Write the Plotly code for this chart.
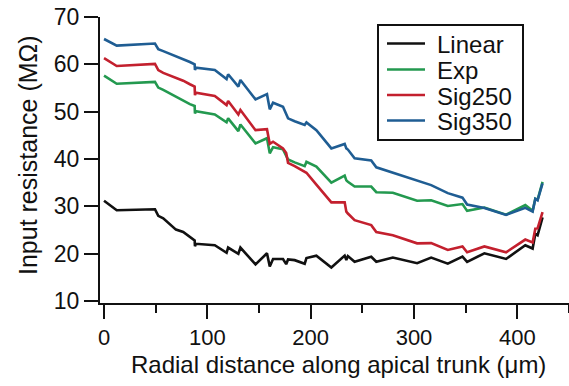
import plotly.graph_objects as go

# Radial distance along apical trunk (um) - shared sample positions
distance = [0, 12.3, 49.3, 52.5, 57.3, 63, 69.6, 76.6, 83.1, 87.7, 88.0, 88.9, 107.2,
            118.6, 120.1, 130, 132, 146.6, 157.7, 160.4, 163.6, 173.2, 176.3, 178.1,
            184.5, 194.2, 195.9, 205.5, 220, 232.9, 234.5, 236, 242.5, 258.6, 263.5,
            279.5, 303, 316.6, 332.7, 346.9, 351.4, 368.1, 389.1, 407.7, 414.8, 417.4,
            419.6, 424.4]

linear = [31.2, 29.2, 29.4, 28.0, 27.5, 26.4, 25.1, 24.6, 23.5, 22.8, 21.6, 22.1, 21.8,
          20.2, 21.3, 20.0, 21.3, 17.75, 20.1, 17.3, 18.9, 18.9, 17.8, 18.8,
          18.65, 17.9, 19.1, 19.6, 17.1, 19.6, 18.7, 19.5, 18.3, 19.35, 18.3,
          19.2, 18.0, 19.2, 17.9, 19.4, 18.3, 20.1, 18.9, 21.8, 21.1, 24.2,
          23.9, 27.7]

exp = [57.6, 55.9, 56.3, 55.1, 54.6, 53.9, 53.2, 52.35, 51.6, 51.2, 49.65, 50.1, 49.4,
       47.75, 48.6, 45.9, 47.3, 43.3, 44.4, 41.2, 42.5, 42.05, 40.5, 39.9,
       39.3, 38.5, 39.4, 38.4, 35.0, 36.5, 35.5, 35.2, 34.2, 34.2, 33.0,
       32.9, 31.2, 31.3, 30.1, 30.5, 29.05, 29.75, 28.25, 30.3, 29.1, 31.6,
       31.4, 35.2]

sig250 = [61.3, 59.65, 60.1, 58.8, 58.2, 57.75, 57.2, 56.55, 55.8, 55.3, 53.5, 54.0, 53.3,
          51.4, 52.25, 49.4, 50.35, 46.1, 46.3, 43.2, 43.65, 42.25, 41.3, 39.2,
          38.5, 37.4, 37.1, 34.6, 30.85, 30.85, 28.9, 28.5, 27.1, 26.05, 24.6,
          23.9, 22.2, 22.25, 20.8, 21.55, 20.3, 21.55, 20.3, 23.0, 22.4, 25.3,
          25.35, 28.8]

sig350 = [65.35, 63.95, 64.4, 63.2, 62.8, 62.3, 61.8, 61.2, 60.5, 60.0, 58.8, 59.3, 58.8,
          56.9, 57.9, 55.3, 56.7, 52.6, 53.7, 50.5, 51.9, 51.05, 49.65, 48.6,
          48.0, 47.2, 47.75, 46.1, 42.25, 43.2, 42.25, 42.0, 40.15, 39.7, 38.25,
          37.1, 35.4, 34.5, 32.8, 31.85, 30.4, 29.65, 28.2, 29.7, 28.9, 31.6,
          31.3, 34.85]

series_names = ["Linear", "Exp", "Sig250", "Sig350"]
series_values = [linear, exp, sig250, sig350]
series_colors = ["#111111", "#23994f", "#c3202e", "#1f5d93"]

x_ticks = [0, 100, 200, 300, 400]
y_ticks = [10, 20, 30, 40, 50, 60, 70]

FONT = "Liberation Sans, Arial, Helvetica, sans-serif"

fig = go.Figure()
for name, vals, col in zip(series_names, series_values, series_colors):
    fig.add_trace(go.Scatter(x=distance, y=vals, mode="lines", name=name,
                             line=dict(color=col, width=2.6), showlegend=False))

W, H = 569, 386
L, R, T, B = 100, 0, 17, 83
pw, ph = W - L - R, H - T - B

def px_to_paper(px, py):
    return (px - L) / pw, (H - B - py) / ph

tx, ty = px_to_paper(338, 365)
yx, yy = px_to_paper(28, 155)

# Legend box drawn in paper space (layout, not data)
leg_left, leg_top, leg_right, leg_bottom = 378, 25, 523, 140
leg_rows = [43.5, 69.5, 95, 120.5]
x0, y0 = px_to_paper(leg_left, leg_bottom)
x1, y1 = px_to_paper(leg_right, leg_top)
shapes = [dict(type="rect", xref="paper", yref="paper", x0=x0, y0=y0, x1=x1, y1=y1,
               line=dict(color="#111111", width=2), fillcolor="white", layer="above")]
annotations = [
    dict(text="Radial distance along apical trunk (\u03bcm)", xref="paper", yref="paper",
         x=tx, y=ty, xanchor="center", yanchor="middle", showarrow=False,
         font=dict(size=24)),
    dict(text="Input resistance (M\u03a9)", xref="paper", yref="paper",
         x=yx, y=yy, xanchor="center", yanchor="middle", showarrow=False,
         textangle=-90, font=dict(size=25)),
]
for name, col, row in zip(series_names, series_colors, leg_rows):
    sx0, sy = px_to_paper(387, row)
    sx1, _ = px_to_paper(425, row)
    shapes.append(dict(type="line", xref="paper", yref="paper", x0=sx0, x1=sx1, y0=sy, y1=sy,
                       line=dict(color=col, width=2.6), layer="above"))
    ax, ay = px_to_paper(435, row + 1)
    annotations.append(dict(text=name, xref="paper", yref="paper", x=ax, y=ay,
                            xanchor="left", yanchor="middle", showarrow=False,
                            font=dict(size=24)))

fig.update_layout(
    width=W, height=H,
    margin=dict(l=L, r=R, t=T, b=B, pad=0),
    paper_bgcolor="white", plot_bgcolor="white",
    font=dict(family=FONT, size=24, color="#111111"),
    showlegend=False,
    xaxis=dict(range=[-3.9, 450], showgrid=False, zeroline=False,
               showline=True, linecolor="#111111", linewidth=2,
               ticks="outside", ticklen=14, tickwidth=2, tickcolor="#111111",
               tickvals=x_ticks, ticktext=[str(v) for v in x_ticks],
               tickfont=dict(size=22),
               minor=dict(ticks="outside", ticklen=8, tickwidth=2, tickcolor="#111111",
                          dtick=50, tick0=0, showgrid=False)),
    yaxis=dict(range=[9.6, 70], showgrid=False, zeroline=False,
               showline=True, linecolor="#111111", linewidth=2,
               ticks="outside", ticklen=14, tickwidth=2, tickcolor="#111111",
               tickvals=y_ticks, ticktext=[str(v) for v in y_ticks],
               tickfont=dict(size=23)),
    shapes=shapes,
    annotations=annotations,
)

fig.write_html("out.html")
